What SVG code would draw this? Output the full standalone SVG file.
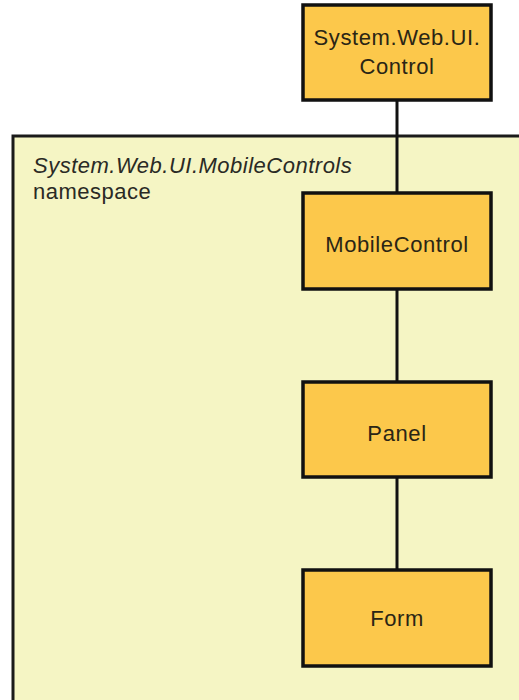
<svg xmlns="http://www.w3.org/2000/svg" width="519" height="700" viewBox="0 0 519 700">
<style>
.ns{fill:#F5F5C4;stroke:#1a1a1a;stroke-width:3}
.box{fill:#FCC84B;stroke:#111;stroke-width:3.5}
.t{font-family:"Liberation Sans",Arial,sans-serif;font-size:22px;fill:#2a2515;text-anchor:middle;letter-spacing:0.6px}
.lbl{font-family:"Liberation Sans",Arial,sans-serif;font-size:22px;fill:#2a2a25;letter-spacing:0.5px}
.conn{stroke:#111;stroke-width:3;fill:none}
</style>
<rect width="519" height="700" fill="#ffffff"/>
<g id="namespace">
<rect class="ns" x="13" y="136" width="520" height="566"/>
<text class="lbl" x="33" y="173" font-style="italic">System.Web.UI.MobileControls</text>
<text class="lbl" x="33" y="199">namespace</text>
</g>
<g id="connectors">
<line class="conn" x1="397" y1="100" x2="397" y2="193"/>
<line class="conn" x1="397" y1="289" x2="397" y2="382"/>
<line class="conn" x1="397" y1="477" x2="397" y2="570"/>
</g>
<g id="control">
<rect class="box" x="303" y="5" width="188" height="95"/>
<text class="t" x="397" y="45">System.Web.UI.</text>
<text class="t" x="397" y="74">Control</text>
</g>
<g id="mobilecontrol">
<rect class="box" x="303" y="193" width="188" height="96"/>
<text class="t" x="397" y="252">MobileControl</text>
</g>
<g id="panel">
<rect class="box" x="303" y="382" width="188" height="95"/>
<text class="t" x="397" y="441">Panel</text>
</g>
<g id="form">
<rect class="box" x="303" y="570" width="188" height="96"/>
<text class="t" x="397" y="626" font-size="23px">Form</text>
</g>
</svg>
